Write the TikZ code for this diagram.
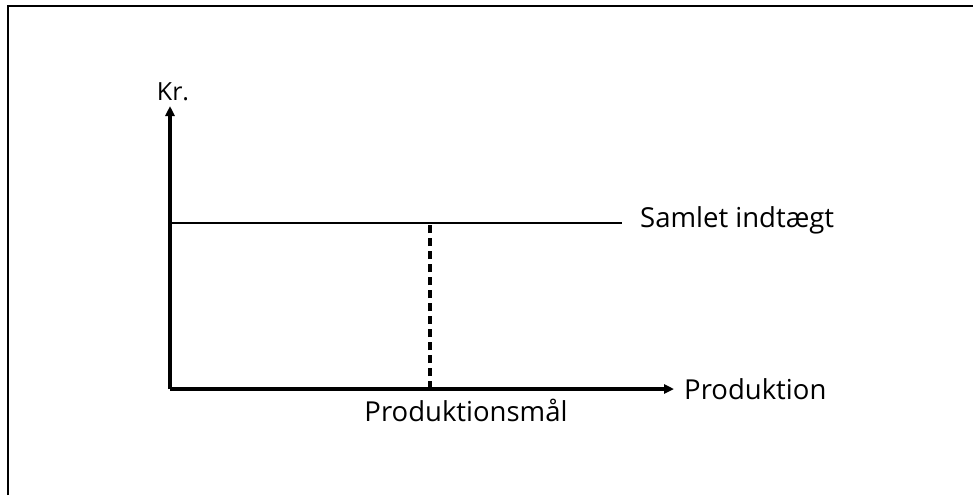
\documentclass[tikz,border=0pt]{standalone}
\usepackage{fontspec}
\setmainfont{Open Sans}
\usetikzlibrary{arrows.meta}
\begin{document}
\begin{tikzpicture}[x=1pt,y=-1pt,
  axis/.style={line width=3.6pt,-{Triangle[length=10pt,width=9pt]}},
  lbl/.style={font=\fontsize{27.5}{32}\selectfont,inner sep=0pt},
  smalllbl/.style={font=\fontsize{25}{29}\selectfont,inner sep=0pt}]
\useasboundingbox (0,0) rectangle (973,495);
\draw[line width=2.4pt] (8,495) -- (8,6) -- (973,6);
\coordinate (O) at (170,389);
\coordinate (ytop) at (170,106);
\coordinate (xend) at (674,389);
\coordinate (hl) at (170,223);
\coordinate (hr) at (622,223);
\coordinate (dt) at (430,223);
\coordinate (db) at (430,389);
\draw[axis] (O) -- (ytop);
\draw[axis] (O) -- (xend);
\draw[line width=2.6pt] (hl) -- (hr);
\draw[line width=3.4pt,dash pattern=on 8pt off 5pt] (db) -- (dt);
\node[smalllbl,anchor=center] (kr) at (173,92) {Kr.};
\node[lbl,anchor=west] (si) at (640,220) {Samlet indtægt};
\node[lbl,anchor=west] (pr) at (684,389) {Produktion};
\node[lbl,anchor=center] (pm) at (466,410) {Produktionsmål};
\end{tikzpicture}
\end{document}
